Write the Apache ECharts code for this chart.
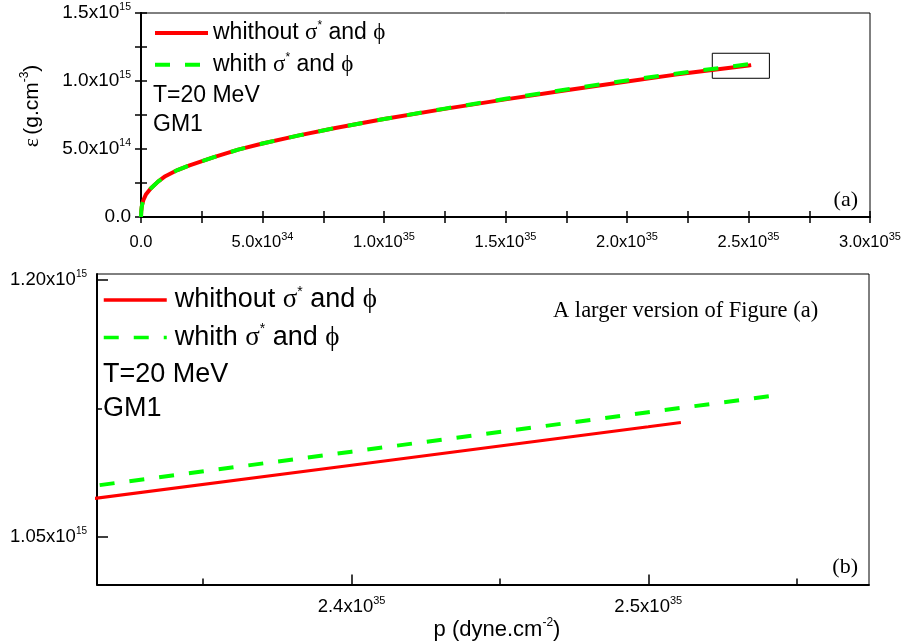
<!DOCTYPE html>
<html><head><meta charset="utf-8">
<script src="https://cdn.jsdelivr.net/npm/echarts@6/dist/echarts.min.js"></script>
<style>html,body{margin:0;padding:0;background:#fff}#c{width:906px;height:642px}</style>
</head><body><div id="c"></div>
<script>
// pressure p in units of 1e35 dyne.cm^-2, energy density eps in units of 1e15 g.cm^-3
const pWithout   = [0, 0.001, 0.003, 0.006, 0.01, 0.02, 0.04, 0.07, 0.1, 0.15, 0.2, 0.3, 0.4, 0.5, 0.65, 0.8, 1.0, 1.25, 1.5, 1.75, 2.0, 2.2, 2.3, 2.4, 2.5, 2.511];
const epsWithout = [0, 0.04, 0.075, 0.10, 0.125, 0.165, 0.21, 0.26, 0.30, 0.345, 0.38, 0.44, 0.495, 0.54, 0.60, 0.655, 0.72, 0.795, 0.865, 0.932, 0.997, 1.047, 1.0695, 1.0919, 1.1143, 1.1168];
const pWith      = [0, 0.001, 0.003, 0.006, 0.01, 0.02, 0.04, 0.07, 0.1, 0.15, 0.2, 0.3, 0.4, 0.5, 0.65, 0.8, 1.0, 1.25, 1.5, 1.75, 2.0, 2.2, 2.3, 2.4, 2.5, 2.544];
const epsWith    = [0, 0.04, 0.075, 0.10, 0.125, 0.165, 0.21, 0.26, 0.30, 0.345, 0.38, 0.44, 0.495, 0.54, 0.60, 0.655, 0.72, 0.797, 0.869, 0.938, 1.004, 1.054, 1.0768, 1.0998, 1.1228, 1.1329];

const seriesNames = ['whithout σ* and ϕ', 'whith σ* and ϕ'];
const legendWords = ['whithout', 'whith'];

const topXTicks  = [0, 0.5, 1.0, 1.5, 2.0, 2.5, 3.0];
const topXLabels = [['0.0',''],['5.0x10','34'],['1.0x10','35'],['1.5x10','35'],['2.0x10','35'],['2.5x10','35'],['3.0x10','35']];
const topYTicks  = [0, 0.5, 1.0, 1.5];
const topYLabels = [['0.0',''],['5.0x10','14'],['1.0x10','15'],['1.5x10','15']];

const zoomXTicks  = [2.4, 2.5];
const zoomXLabels = [['2.4x10','35'],['2.5x10','35']];
const zoomXMinor  = [2.35, 2.45, 2.55];
const zoomYTicks  = [1.05, 1.20];
const zoomYLabels = [['1.05x10','15'],['1.20x10','15']];
const zoomYMinor  = [1.125];
const zoomXRange  = [2.3142, 2.5744];
const zoomYRange  = [1.0222, 1.2035];
const boxP   = [2.351, 2.586];
const boxEps = [1.020, 1.204];

const SANS = 'Liberation Sans, Arial, sans-serif';
const SERIF = 'Liberation Serif, Times New Roman, serif';

function zip(a, b) { return a.map((v, i) => [v, b[i]]); }
function fmt(ticks, labels) {
  return function (v) {
    for (let i = 0; i < ticks.length; i++) {
      if (Math.abs(v - ticks[i]) < 1e-6) {
        return labels[i][1] ? '{a|' + labels[i][0] + '}{b|' + labels[i][1] + '}' : '{a|' + labels[i][0] + '}';
      }
    }
    return '';
  };
}
function labRich(fs, sup, lh) {
  return { a: { fontFamily: SANS, fontSize: fs, lineHeight: lh, color: '#000' },
           b: { fontFamily: SANS, fontSize: sup, lineHeight: sup + 1, verticalAlign: 'top', color: '#000' } };
}
function legRich(fs, lh, padL) {
  return {
    t: { fontFamily: SANS, fontSize: fs, lineHeight: lh, color: '#000' },
    f: { fontFamily: SANS, fontSize: fs, lineHeight: lh, color: '#000', padding: [0, 0, 0, padL] },
    s: { fontFamily: SERIF, fontSize: fs, lineHeight: lh, color: '#000' },
    u: { fontFamily: SANS, fontSize: Math.round(fs * 0.5), lineHeight: Math.round(fs * 0.55), verticalAlign: 'top', color: '#000' }
  };
}
function legFmt(name) {
  const i = seriesNames.indexOf(name);
  return '{f|' + legendWords[i] + ' }{s|σ}{u|*}{t| and }{s|ϕ}';
}

const black = '#000';
const hiddenSymbol = { color: 'rgba(0,0,0,0)', borderColor: 'rgba(0,0,0,0)', borderWidth: 0, opacity: 0 };
const chart = echarts.init(document.getElementById('c'), null, { renderer: 'canvas' });
const option = {
  backgroundColor: '#fff',
  animation: false,
  grid: [
    { left: 141, top: 13, right: 36, bottom: 425, show: true, borderColor: black, borderWidth: 1 },
    { left: 97, top: 274, right: 37, bottom: 55, show: true, borderColor: black, borderWidth: 1 }
  ],
  legend: [
    { orient: 'vertical', left: 153, top: 20, padding: 0, itemWidth: 53, itemHeight: 14, itemGap: 7.3,
      data: seriesNames, formatter: legFmt, textStyle: { rich: legRich(23, 26, 0) }, selectedMode: false,
      itemStyle: hiddenSymbol, lineStyle: { width: 4 } },
    { orient: 'vertical', left: 102, top: 285, padding: 0, itemWidth: 63, itemHeight: 14, itemGap: 9,
      data: seriesNames, formatter: legFmt, textStyle: { rich: legRich(27, 30, 3) }, selectedMode: false,
      itemStyle: hiddenSymbol, lineStyle: { width: 3.5 } }
  ],
  xAxis: [
    { gridIndex: 0, type: 'value', position: 'bottom', min: 0, max: 3, interval: 0.25,
      axisLine: { lineStyle: { color: black, width: 2 } },
      axisTick: { inside: true, length: 6, lineStyle: { color: black, width: 1.5 } },
      axisLabel: { formatter: fmt(topXTicks, topXLabels), margin: 14, rich: labRich(16.5, 11, 22), showMinLabel: true, showMaxLabel: true },
      splitLine: { show: false } },
    { gridIndex: 0, type: 'value', position: 'top', min: 0, max: 3, interval: 0.25,
      axisLine: { lineStyle: { color: black, width: 2 } },
      axisTick: { inside: true, length: 6, lineStyle: { color: black, width: 1.5 } },
      axisLabel: { show: false }, splitLine: { show: false } },
    { gridIndex: 1, type: 'value', position: 'bottom', min: zoomXRange[0], max: zoomXRange[1],
      axisLine: { lineStyle: { color: black, width: 2 } },
      axisTick: { inside: true, length: 10, customValues: zoomXTicks, lineStyle: { color: black, width: 1.5 } },
      axisLabel: { customValues: zoomXTicks, formatter: fmt(zoomXTicks, zoomXLabels), margin: 11, rich: labRich(18.5, 11, 22) },
      splitLine: { show: false },
      name: '{t|p (dyne.cm}{s|-2}{t|)}', nameLocation: 'middle', nameGap: 18,
      nameTextStyle: { padding: [0, 0, 0, 28], rich: {
        t: { fontFamily: SANS, fontSize: 22, lineHeight: 26, color: black },
        s: { fontFamily: SANS, fontSize: 12, lineHeight: 13, verticalAlign: 'top', color: black } } } },
    { gridIndex: 1, type: 'value', position: 'bottom', min: zoomXRange[0], max: zoomXRange[1],
      axisLine: { show: false },
      axisTick: { inside: true, length: 6, customValues: zoomXMinor, lineStyle: { color: black, width: 1.5 } },
      axisLabel: { show: false }, splitLine: { show: false } }
  ],
  yAxis: [
    { gridIndex: 0, type: 'value', position: 'left', min: 0, max: 1.5, interval: 0.25,
      axisLine: { show: true, lineStyle: { color: black, width: 2 } },
      axisTick: { show: true, inside: true, length: 6, lineStyle: { color: black, width: 1.5 } },
      axisLabel: { formatter: fmt(topYTicks, topYLabels), margin: 10, rich: labRich(19, 10.5, 22) },
      splitLine: { show: false },
      name: '{e|ε} {t|(g.cm}{s|-3}{t|)}', nameLocation: 'middle', nameGap: 96,
      nameTextStyle: { padding: [0, 0, 0, 18], rich: {
        e: { fontFamily: SERIF, fontSize: 22, lineHeight: 26, color: black },
        t: { fontFamily: SANS, fontSize: 21, lineHeight: 26, color: black },
        s: { fontFamily: SANS, fontSize: 12, lineHeight: 13, verticalAlign: 'top', color: black } } } },
    { gridIndex: 0, type: 'value', position: 'right', min: 0, max: 1.5, interval: 0.25,
      axisLine: { show: true, lineStyle: { color: black, width: 2 } },
      axisTick: { show: true, inside: true, length: 6, lineStyle: { color: black, width: 1.5 } },
      axisLabel: { show: false }, splitLine: { show: false } },
    { gridIndex: 1, type: 'value', position: 'left', min: zoomYRange[0], max: zoomYRange[1],
      axisLine: { show: true, lineStyle: { color: black, width: 2 } },
      axisTick: { show: true, inside: true, length: 11, customValues: zoomYTicks, lineStyle: { color: black, width: 1.5 } },
      axisLabel: { customValues: zoomYTicks, formatter: fmt(zoomYTicks, zoomYLabels), margin: 10, rich: labRich(18.5, 10, 22) },
      splitLine: { show: false } },
    { gridIndex: 1, type: 'value', position: 'left', min: zoomYRange[0], max: zoomYRange[1],
      axisLine: { show: false },
      axisTick: { show: true, inside: true, length: 5, customValues: zoomYMinor, lineStyle: { color: black, width: 1.5 } },
      axisLabel: { show: false }, splitLine: { show: false } }
  ],
  series: [
    { name: seriesNames[0], type: 'line', xAxisIndex: 0, yAxisIndex: 0, data: zip(pWithout, epsWithout),
      symbol: 'none', showSymbol: false, z: 2, lineStyle: { color: '#ff0000', width: 4 }, itemStyle: { color: '#ff0000' },
      markArea: { silent: true, itemStyle: { color: 'rgba(0,0,0,0)', borderColor: black, borderWidth: 1 },
        data: [[{ coord: [boxP[0], boxEps[0]] }, { coord: [boxP[1], boxEps[1]] }]] } },
    { name: seriesNames[1], type: 'line', xAxisIndex: 0, yAxisIndex: 0, data: zip(pWith, epsWith),
      symbol: 'none', showSymbol: false, z: 3, lineStyle: { color: '#00ff00', width: 4, type: [15, 15] }, itemStyle: { color: '#00ff00' } },
    { name: seriesNames[0], type: 'line', xAxisIndex: 2, yAxisIndex: 2, data: zip(pWithout, epsWithout),
      symbol: 'none', showSymbol: false, z: 2, lineStyle: { color: '#ff0000', width: 3 }, itemStyle: { color: '#ff0000' } },
    { name: seriesNames[1], type: 'line', xAxisIndex: 2, yAxisIndex: 2, data: zip(pWith, epsWith),
      symbol: 'none', showSymbol: false, z: 3, lineStyle: { color: '#00ff00', width: 4, type: [15, 15] }, itemStyle: { color: '#00ff00' } }
  ],
  graphic: [
    { type: 'text', x: 153, y: 96, style: { text: 'T=20 MeV', font: '23px ' + SANS, fill: black, verticalAlign: 'middle' } },
    { type: 'text', x: 153, y: 125, style: { text: 'GM1', font: '23px ' + SANS, fill: black, verticalAlign: 'middle' } },
    { type: 'text', x: 858, y: 200, style: { text: '(a)', font: '22px ' + SERIF, fill: black, align: 'right', verticalAlign: 'middle' } },
    { type: 'text', x: 103, y: 374.6, style: { text: 'T=20 MeV', font: '27px ' + SANS, fill: black, verticalAlign: 'middle' } },
    { type: 'text', x: 103, y: 408.6, style: { text: 'GM1', font: '27px ' + SANS, fill: black, verticalAlign: 'middle' } },
    { type: 'text', x: 553, y: 311, style: { text: 'A larger version of Figure (a)', font: '22.5px ' + SERIF, fill: black, verticalAlign: 'middle' } },
    { type: 'text', x: 858, y: 567, style: { text: '(b)', font: '22px ' + SERIF, fill: black, align: 'right', verticalAlign: 'middle' } }
  ]
};
chart.setOption(option);
</script>
</body></html>
